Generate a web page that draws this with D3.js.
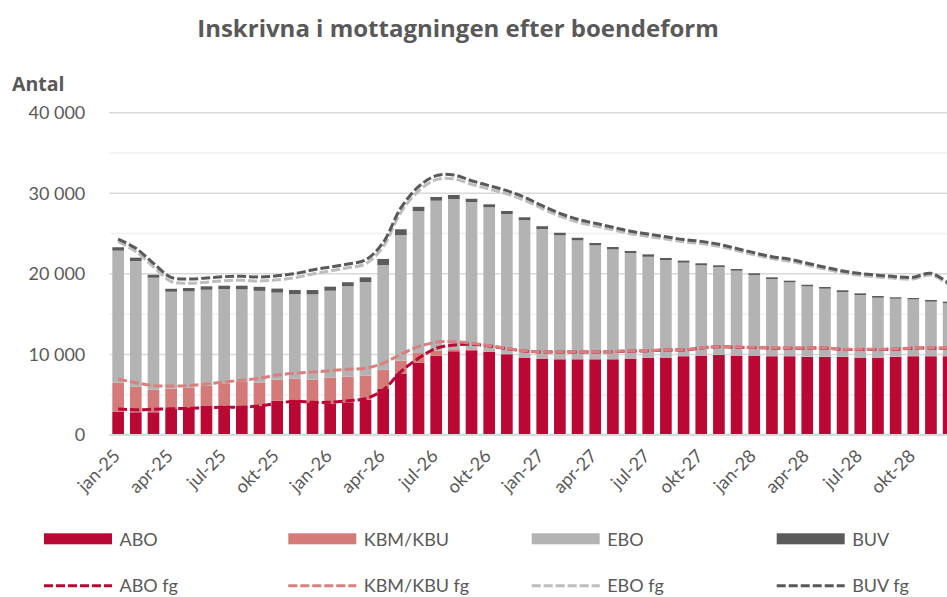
<!DOCTYPE html>
<html>
<head>
<meta charset="utf-8">
<script src="https://cdn.jsdelivr.net/npm/d3@7"></script>
<style>
  body { margin: 0; background: #fff; }
  text { font-family: Lato, "Open Sans", sans-serif; fill: #595959; }
</style>
</head>
<body>
<svg id="chart" width="947" height="597"></svg>
<script>
// months, jan-25 .. dec-28
var categories = ["jan-25","feb-25","mar-25","apr-25","maj-25","jun-25","jul-25","aug-25","sep-25","okt-25","nov-25","dec-25",
  "jan-26","feb-26","mar-26","apr-26","maj-26","jun-26","jul-26","aug-26","sep-26","okt-26","nov-26","dec-26",
  "jan-27","feb-27","mar-27","apr-27","maj-27","jun-27","jul-27","aug-27","sep-27","okt-27","nov-27","dec-27",
  "jan-28","feb-28","mar-28","apr-28","maj-28","jun-28","jul-28","aug-28","sep-28","okt-28","nov-28","dec-28"];
var tickLabels = ["jan-25","apr-25","jul-25","okt-25","jan-26","apr-26","jul-26","okt-26",
  "jan-27","apr-27","jul-27","okt-27","jan-28","apr-28","jul-28","okt-28"];
var yTicks = [0, 10000, 20000, 30000, 40000];

// bars (utfall)
var abo = [2900,2820,2820,3310,3440,3600,3600,3600,3620,4260,4340,4060,3850,4060,4380,5710,7570,8970,9840,10390,10510,10300,10020,9590,
  9470,9390,9390,9390,9390,9470,9590,9590,9770,9840,9930,9840,9840,9770,9770,9680,9680,9680,9590,9590,9680,9770,9770,9770];
var kbm = [3600,3180,2800,2430,2430,2520,2820,2980,2890,2610,2640,2800,3260,3180,2980,2400,1650,1200,620,250,120,80,60,40,
  40,40,40,40,40,40,40,40,40,40,40,40,40,40,40,40,40,40,40,40,40,40,40,40];
var ebo = [16380,15600,13900,12040,11960,11910,11700,11500,11380,10800,10510,10600,10800,11220,11630,12990,15600,17620,18620,18650,18280,17880,17350,17050,
  16060,15350,14730,14110,13610,13080,12490,12090,11580,11180,10880,10510,9980,9550,9140,8730,8440,8030,7740,7410,7200,7030,6740,6540];
var buv = [420,410,370,370,410,420,410,450,500,500,500,530,500,500,580,750,710,530,460,500,410,370,370,340,
  340,320,320,290,290,250,300,250,250,250,210,210,210,210,200,200,210,210,210,210,170,160,210,200];

// lines (fg)
var aboFg = [3230,3140,3190,3260,3310,3390,3440,3440,3600,3930,4180,4060,4060,4260,4510,5590,7860,9520,10760,11170,11260,11050,10710,10420,
  10300,10300,10300,10300,10340,10420,10460,10550,10550,10800,10950,10880,10850,10780,10780,10780,10780,10620,10620,10620,10650,10780,10780,10780];
var kbmFg = [3720,3350,2930,2820,2810,2940,3140,3350,3440,3510,3480,3760,3920,3900,3770,3310,2160,1440,750,410,120,40,30,30,
  30,30,30,30,30,30,30,30,30,30,30,30,30,30,30,30,30,30,30,30,30,30,30,30];
var eboFg = [17070,16280,14740,12970,12720,12640,12570,12410,12070,11820,11860,12160,12390,12590,12960,14470,17600,19320,20180,20210,19730,19430,19180,18670,
  17770,16830,16100,15610,15090,14520,14150,13730,13400,12930,12430,11990,11480,11080,10760,10280,9780,9480,9160,8960,8750,8560,9050,7810];
var buvFg = [300,400,450,520,520,520,500,500,500,500,500,500,480,480,480,520,560,540,500,480,450,420,400,380,
  360,350,340,330,320,310,300,290,280,270,260,250,250,240,240,230,230,230,220,220,220,210,210,210];

var barKeys = ["ABO","KBM/KBU","EBO","BUV"];
var lineKeys = ["ABO fg","KBM/KBU fg","EBO fg","BUV fg"];
var colors = {"ABO":"#ba0835","KBM/KBU":"#d47a78","EBO":"#b3b3b3","BUV":"#5b5b5b",
  "ABO fg":"#ba0835","KBM/KBU fg":"#d9807e","EBO fg":"#bdbdbd","BUV fg":"#595959"};

var svg = d3.select("#chart");
var plotLeft = 109.3, plotTop = 112.7, plotBottom = 435;

var x = d3.scaleBand().domain(categories).range([plotLeft, plotLeft + 48 * 17.67])
  .paddingInner(0.34).paddingOuter(0.17);
var y = d3.scaleLinear().domain([0, 40000]).range([plotBottom, plotTop]);

// gridlines
var grid = d3.range(5000, 40001, 5000);
svg.append("g").selectAll("line").data(grid).enter().append("line")
  .attr("x1", plotLeft).attr("x2", 947)
  .attr("y1", function(d){ return y(d); }).attr("y2", function(d){ return y(d); })
  .attr("stroke", function(d){ return d % 10000 == 0 ? "#d9d9d9" : "#f0f0f0"; })
  .attr("stroke-width", 1.5);

// bars
var rows = categories.map(function(c, i){
  return {cat: c, "ABO": abo[i], "KBM/KBU": kbm[i], "EBO": ebo[i], "BUV": buv[i],
    "ABO fg": aboFg[i], "KBM/KBU fg": kbmFg[i], "EBO fg": eboFg[i], "BUV fg": buvFg[i]};
});
var barStack = d3.stack().keys(barKeys)(rows);
svg.append("g").selectAll("g").data(barStack).enter().append("g")
  .attr("fill", function(s){ return colors[s.key]; })
  .selectAll("rect").data(function(s){ return s; }).enter().append("rect")
  .attr("x", function(d){ return x(d.data.cat); })
  .attr("width", x.bandwidth())
  .attr("y", function(d){ return y(d[1]); })
  .attr("height", function(d){ return y(d[0]) - y(d[1]); });

// baseline
svg.append("line").attr("x1", plotLeft).attr("x2", 947).attr("y1", plotBottom).attr("y2", plotBottom)
  .attr("stroke", "#d9d9d9").attr("stroke-width", 2);

// forecast lines
var lineStack = d3.stack().keys(lineKeys)(rows);
var line = d3.line()
  .x(function(d){ return x(d.data.cat) + x.bandwidth() / 2; })
  .y(function(d){ return y(d[1]); })
  .curve(d3.curveCatmullRom.alpha(0.5));
svg.append("g").selectAll("path").data(lineStack).enter().append("path")
  .attr("d", line)
  .attr("fill", "none")
  .attr("stroke", function(s){ return colors[s.key]; })
  .attr("stroke-width", 3)
  .attr("stroke-dasharray", "9,3");

// y axis
var yAxis = svg.append("g").attr("transform", "translate(" + (plotLeft - 21) + ",0)")
  .call(d3.axisLeft(y).tickValues(yTicks).tickSize(0)
    .tickFormat(function(d){ return d3.format(",")(d).replace(/,/g, " "); }));
yAxis.select(".domain").remove();
yAxis.selectAll("text").attr("font-size", 18).attr("fill", "#595959")
  .style("font-family", "Lato, sans-serif");

// x axis
var xAxis = svg.append("g").attr("transform", "translate(0," + plotBottom + ")")
  .call(d3.axisBottom(x).tickValues(tickLabels).tickSize(0));
xAxis.select(".domain").remove();
xAxis.selectAll("text")
  .attr("font-size", 18).attr("fill", "#595959").style("font-family", "Lato, sans-serif")
  .attr("text-anchor", "end").attr("dy", null).attr("y", 0)
  .attr("transform", "translate(3,22) rotate(-45)");

// title
svg.append("text").attr("x", 458).attr("y", 37).attr("text-anchor", "middle")
  .style("font-family", "'Open Sans', sans-serif")
  .attr("font-size", 24).attr("font-weight", "bold").text("Inskrivna i mottagningen efter boendeform");
svg.append("text").attr("x", 12).attr("y", 91)
  .style("font-family", "'Open Sans', sans-serif")
  .attr("font-size", 19.5).attr("font-weight", "bold").text("Antal");

// legend
var legX = [44, 288.3, 531.7, 776.7];
var leg = svg.append("g");
barKeys.forEach(function(k, i){
  leg.append("rect").attr("x", legX[i]).attr("y", 533.3).attr("width", 68).attr("height", 11)
    .attr("fill", colors[k]);
  leg.append("text").attr("x", legX[i] + 75.5).attr("y", 545.5).attr("font-size", 18).text(k);
});
lineKeys.forEach(function(k, i){
  leg.append("line").attr("x1", legX[i]).attr("x2", legX[i] + 68).attr("y1", 585.7).attr("y2", 585.7)
    .attr("stroke", colors[k]).attr("stroke-width", 3).attr("stroke-dasharray", "9,3");
  leg.append("text").attr("x", legX[i] + 75.5).attr("y", 592).attr("font-size", 18).text(k);
});
</script>
</body>
</html>
